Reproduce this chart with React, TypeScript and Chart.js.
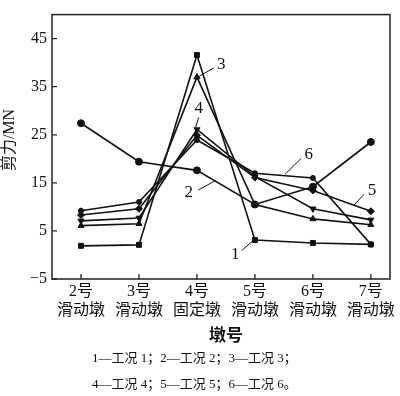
import React, { useEffect, useRef } from "react";
import { Chart, registerables } from "chart.js";

Chart.register(...registerables);

const piers = [2, 3, 4, 5, 6, 7];
const pierLabels: string[][] = [
  ["2号", "滑动墩"],
  ["3号", "滑动墩"],
  ["4号", "固定墩"],
  ["5号", "滑动墩"],
  ["6号", "滑动墩"],
  ["7号", "滑动墩"],
];
const yTicks = [-5, 5, 15, 25, 35, 45];

const case1 = [1.9, 2.1, 41.6, 3.1, 2.5, 2.2];
const case2 = [27.4, 19.4, 17.6, 10.5, 14.2, 23.5];
const case3 = [6.1, 6.5, 37.0, 10.5, 7.5, 6.3];
const case4 = [7.1, 7.7, 26.1, 16.3, 9.6, 7.3];
const case5 = [8.3, 9.6, 24.9, 16.1, 13.4, 9.1];
const case6 = [9.2, 11.0, 23.9, 17.0, 16.0, 2.2];

// callout labels: [text, textX, textY, lineX1, lineY1, lineX2, lineY2] in data units
const callouts: [string, number, number, number, number, number, number][] = [
  ["3", 4.42, 39.7, 4.29, 38.9, 4.03, 37.1],
  ["4", 4.03, 30.4, 4.03, 28.6, 3.98, 26.6],
  ["6", 5.93, 20.9, 5.80, 20.1, 5.52, 16.8],
  ["2", 3.86, 13.0, 4.02, 13.5, 4.31, 15.4],
  ["5", 7.02, 13.4, 6.88, 12.6, 6.71, 10.4],
  ["1", 4.66, 0.1, 4.77, 0.9, 4.95, 2.8],
];

const legendLines = ["1—工况 1；2—工况 2；3—工况 3；", "4—工况 4；5—工况 5；6—工况 6。"];

const FONT = '"Liberation Serif", "Noto Sans CJK SC", serif';

export default function App() {
  const ref = useRef<HTMLCanvasElement | null>(null);
  useEffect(() => {
    if (!ref.current) return;
    const mk = (label: string, vals: number[], style: any, radius: number, rotation = 0, bw = 1) => ({
      label,
      data: vals.map((v, i) => ({ x: piers[i], y: v })),
      borderColor: "#111",
      backgroundColor: "#111",
      borderWidth: 1.6,
      pointStyle: style,
      pointRadius: radius,
      pointRotation: rotation,
      pointBorderWidth: bw,
      tension: 0,
    });
    const extras = {
      id: "extras",
      beforeDatasetsDraw(chart: any) {
        const { ctx, chartArea: a, scales } = chart;
        ctx.save();
        ctx.strokeStyle = "#222";
        ctx.lineWidth = 1.5;
        ctx.strokeRect(a.left, a.top, a.right - a.left, a.bottom - a.top);
        ctx.lineWidth = 1.3;
        ctx.beginPath();
        piers.forEach((p) => {
          const x = scales.x.getPixelForValue(p);
          ctx.moveTo(x, a.bottom);
          ctx.lineTo(x, a.bottom - 5);
        });
        yTicks.forEach((t) => {
          const y = scales.y.getPixelForValue(t);
          ctx.moveTo(a.left, y);
          ctx.lineTo(a.left + 5, y);
        });
        ctx.stroke();
        ctx.restore();
      },
      afterDraw(chart: any) {
        const { ctx, scales } = chart;
        ctx.save();
        ctx.fillStyle = "#111";
        ctx.strokeStyle = "#111";
        ctx.lineWidth = 1;
        ctx.font = `17px ${FONT}`;
        ctx.textAlign = "center";
        ctx.textBaseline = "middle";
        callouts.forEach(([t, tx, ty, x1, y1, x2, y2]) => {
          ctx.fillText(t, scales.x.getPixelForValue(tx), scales.y.getPixelForValue(ty));
          ctx.beginPath();
          ctx.moveTo(scales.x.getPixelForValue(x1), scales.y.getPixelForValue(y1));
          ctx.lineTo(scales.x.getPixelForValue(x2), scales.y.getPixelForValue(y2));
          ctx.stroke();
        });
        ctx.font = `bold 17px ${FONT}`;
        ctx.fillText("墩号", 226, 337);
        ctx.save();
        ctx.translate(10, 140);
        ctx.rotate(-Math.PI / 2);
        ctx.font = `16px ${FONT}`;
        ctx.fillText("剪力/MN", 0, 0);
        ctx.restore();
        ctx.font = `13px ${FONT}`;
        ctx.textAlign = "left";
        ctx.fillText(legendLines[0], 92, 359);
        ctx.fillText(legendLines[1], 92, 385);
        ctx.restore();
      },
    };
    const chart = new Chart(ref.current, {
      type: "line",
      data: {
        datasets: [
          mk("工况1", case1, "rect", 3.5),
          mk("工况2", case2, "circle", 3.5),
          mk("工况3", case3, "triangle", 3.5),
          mk("工况4", case4, "triangle", 3.5, 180),
          mk("工况5", case5, "rectRot", 3.5),
          mk("工况6", case6, "star", 3, 0, 1.8),
        ] as any,
      },
      options: {
        animation: false,
        responsive: false,
        layout: { padding: { top: 1, right: 10, left: 0, bottom: 0 } },
        plugins: { legend: { display: false }, tooltip: { enabled: false } },
        scales: {
          x: {
            type: "linear",
            min: 1.5,
            max: 7.33,
            grid: { display: false, drawTicks: false },
            border: { display: false },
            afterBuildTicks: (s: any) => {
              s.ticks = piers.map((v) => ({ value: v }));
            },
            afterFit: (s: any) => {
              s.height = 117;
            },
            ticks: {
              padding: 3,
              color: "#111",
              maxRotation: 0,
              autoSkip: false,
              font: { family: FONT, size: 16, lineHeight: 1.2 },
              callback: (v: any) => {
                const i = piers.indexOf(Number(v));
                return i >= 0 ? pierLabels[i] : "";
              },
            },
          },
          y: {
            min: -5,
            max: 50,
            grid: { display: false, drawTicks: false },
            border: { display: false },
            afterBuildTicks: (s: any) => {
              s.ticks = yTicks.map((v) => ({ value: v }));
            },
            afterFit: (s: any) => {
              s.width = 52;
            },
            ticks: {
              padding: 5,
              color: "#111",
              font: { family: FONT, size: 16 },
              callback: (v: any) => String(v).replace("-", "−"),
            },
          },
        },
      },
      plugins: [extras],
    } as any);
    return () => chart.destroy();
  }, []);
  return (
    <div style={{ position: "absolute", left: 0, top: 0, width: 400, height: 396, background: "#fff" }}>
      <canvas ref={ref} width={400} height={396} />
    </div>
  );
}
